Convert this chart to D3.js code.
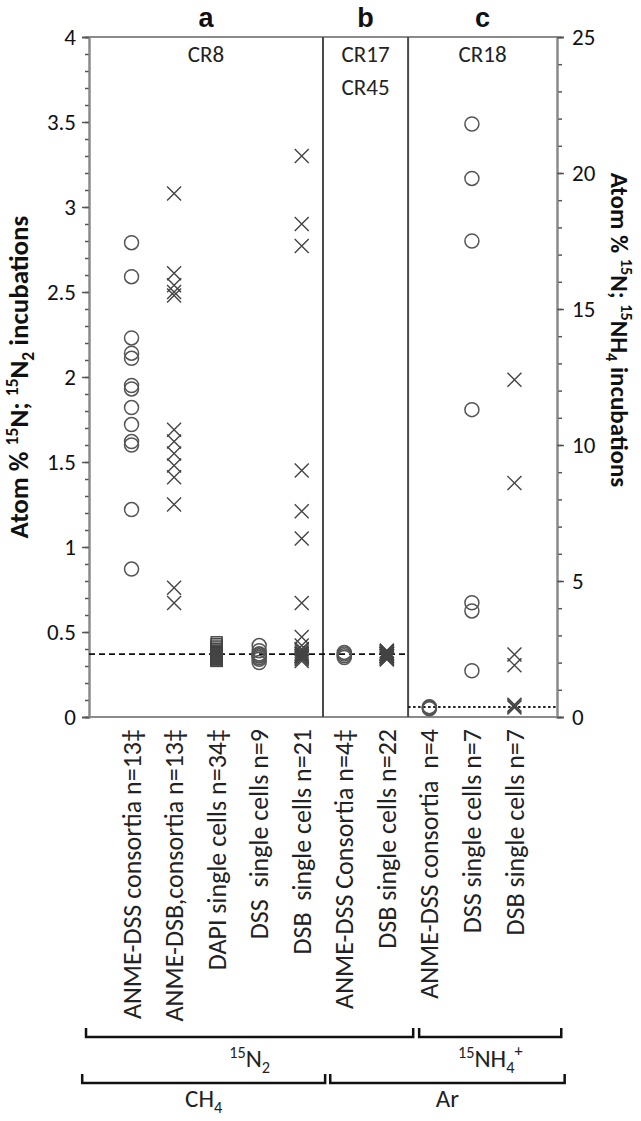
<!DOCTYPE html>
<html><head><meta charset="utf-8">
<script src="https://cdn.jsdelivr.net/npm/d3@7"></script>
<style>
html,body{margin:0;padding:0;background:#fff;}
svg{display:block;}
text{font-family:Carlito, Lato, "Open Sans", sans-serif;}
</style></head>
<body><svg id="chart" width="641" height="1121"></svg>
<script>
// ---- data ----
const categories = ["ANME-DSS consortia n=13‡", "ANME-DSB,consortia n=13‡", "DAPI single cells n=34‡",
  "DSS  single cells n=9", "DSB  single cells n=21", "ANME-DSS Consortia n=4‡", "DSB single cells n=22",
  "ANME-DSS consortia  n=4", "DSS single cells n=7", "DSB single cells n=7"];
const markerTypes = ["circle","cross","square","circle","cross","circle","cross","circle","circle","cross"];
const useRightAxis = [false,false,false,false,false,false,false,true,true,true];

const anmeDssConsortia = [2.79, 2.59, 2.23, 2.14, 2.11, 1.95, 1.93, 1.82, 1.72, 1.62, 1.60, 1.22, 0.87];
const anmeDsbConsortia = [3.08, 2.61, 2.54, 2.50, 2.48, 1.69, 1.62, 1.55, 1.48, 1.41, 1.25, 0.76, 0.67];
const dapiCells = [0.44,0.43,0.42,0.41,0.40,0.40,0.39,0.39,0.38,0.38,0.38,0.38,0.37,0.37,0.37,0.37,0.37,
  0.36,0.36,0.36,0.36,0.36,0.35,0.35,0.35,0.35,0.34,0.34,0.34,0.34,0.33,0.33,0.33,0.36];
const dssCells = [0.42, 0.39, 0.37, 0.37, 0.36, 0.36, 0.35, 0.34, 0.32];
const dsbCells = [3.30, 2.90, 2.77, 1.45, 1.21, 1.05, 0.67, 0.47, 0.42, 0.40, 0.39, 0.38, 0.37, 0.37,
  0.36, 0.36, 0.36, 0.35, 0.35, 0.34, 0.33];
const bAnmeDss = [0.38, 0.37, 0.36, 0.35];
const bDsbCells = [0.39,0.39,0.38,0.38,0.38,0.37,0.37,0.37,0.37,0.37,0.37,0.36,0.36,0.36,0.36,0.36,0.36,
  0.35,0.35,0.35,0.34,0.34];
const cAnmeDss = [0.30, 0.33, 0.36, 0.38];
const cDssCells = [21.8, 19.8, 17.5, 11.3, 4.2, 3.9, 1.7];
const cDsbCells = [12.4, 8.6, 2.3, 1.9, 0.45, 0.40, 0.35];
const seriesValues = [anmeDssConsortia, anmeDsbConsortia, dapiCells, dssCells, dsbCells,
  bAnmeDss, bDsbCells, cAnmeDss, cDssCells, cDsbCells];

const naturalAbundanceLeft = 0.37;   // dashed, panels a+b
const naturalAbundanceRight = 0.37;  // dotted, panel c (right axis)

const leftMajorTicks = [0,0.5,1,1.5,2,2.5,3,3.5,4];
const leftMinorTicks = d3.range(0,41).map(d=>d/10);
const rightMajorTicks = [0,5,10,15,20,25];
const rightMinorTicks = d3.range(0,26);

const panelLetters = ["a","b","c"];
const panelBounds = [[0,5.5],[5.5,7.5],[7.5,11]];
const panelSites = [["CR8"],["CR17","CR45"],["CR18"]];

const bracketRow1 = [{label:[["15","sup"],["N",""],["2","sub"]], from:-0.07, to:7.62},
                     {label:[["15","sup"],["NH",""],["4","sub"],["+","sup2"]], from:7.76, to:11.1}];
const bracketRow2 = [{label:[["CH",""],["4","sub"]], from:-0.16, to:5.55},
                     {label:[["Ar",""]], from:5.67, to:11.18}];

// ---- layout ----
const svg = d3.select("#chart");
const x = d3.scaleLinear().domain([0,11]).range([89,557]);
const yL = d3.scaleLinear().domain([0,4]).range([717,37]);
const yR = d3.scaleLinear().domain([0,25]).range([717,37]);
const axisColor = "#8a8a8a";
const markColor = "#555";

// frame: top and bottom
svg.append("line").attr("x1",x(0)).attr("x2",x(11)).attr("y1",yL(4)).attr("y2",yL(4))
  .attr("stroke",axisColor).attr("stroke-width",2);
svg.append("line").attr("x1",x(0)).attr("x2",x(11)).attr("y1",yL(0)).attr("y2",yL(0))
  .attr("stroke",axisColor).attr("stroke-width",2);
// panel dividers
[5.5,7.5].forEach(p=>{
  svg.append("line").attr("x1",x(p)).attr("x2",x(p)).attr("y1",yL(4)).attr("y2",yL(0))
    .attr("stroke","#4a4a4a").attr("stroke-width",2);
});

// axes
function styleAxis(g){
  g.select(".domain").attr("stroke",axisColor).attr("stroke-width",2);
  g.selectAll(".tick line").attr("stroke","#555").attr("stroke-width",1.5);
  g.selectAll(".tick text").attr("fill","#111").style("font-size","23px")
    .style("font-family","Carlito, Lato, sans-serif");
}
const gLm = svg.append("g").attr("transform",`translate(${x(0)},0)`)
  .call(d3.axisLeft(yL).tickValues(leftMinorTicks).tickSize(4).tickFormat(""));
styleAxis(gLm);
const gL = svg.append("g").attr("transform",`translate(${x(0)},0)`)
  .call(d3.axisLeft(yL).tickValues(leftMajorTicks).tickSize(7).tickPadding(6).tickFormat(d3.format("~g")));
styleAxis(gL);
const gRm = svg.append("g").attr("transform",`translate(${x(11)},0)`)
  .call(d3.axisRight(yR).tickValues(rightMinorTicks).tickSize(5).tickFormat(""));
styleAxis(gRm);
const gR = svg.append("g").attr("transform",`translate(${x(11)},0)`)
  .call(d3.axisRight(yR).tickValues(rightMajorTicks).tickSize(7).tickPadding(8).tickFormat(d3.format("~g")));
styleAxis(gR);

// natural abundance lines
svg.append("line").attr("x1",x(0)).attr("x2",x(7.5)).attr("y1",yL(naturalAbundanceLeft)).attr("y2",yL(naturalAbundanceLeft))
  .attr("stroke","#111").attr("stroke-width",1.6).attr("stroke-dasharray","6,4");
svg.append("line").attr("x1",x(7.5)).attr("x2",x(11)).attr("y1",yR(naturalAbundanceRight)).attr("y2",yR(naturalAbundanceRight))
  .attr("stroke","#222").attr("stroke-width",2).attr("stroke-dasharray","2.5,2.5");

// markers
const pts = [];
seriesValues.forEach((vals,i)=>vals.forEach(v=>pts.push({i, v, type:markerTypes[i], right:useRightAxis[i]})));
const gPts = svg.append("g");
pts.forEach(p=>{
  const cx = x(p.i+1), cy = p.right ? yR(p.v) : yL(p.v);
  if(p.type==="circle"){
    gPts.append("circle").attr("cx",cx).attr("cy",cy).attr("r",7)
      .attr("fill","none").attr("stroke",markColor).attr("stroke-width",1.5);
  } else if(p.type==="cross"){
    const s=7;
    gPts.append("path").attr("d",`M${cx-s},${cy-s}L${cx+s},${cy+s}M${cx-s},${cy+s}L${cx+s},${cy-s}`)
      .attr("fill","none").attr("stroke","#444").attr("stroke-width",1.4);
  } else {
    const s=5.5;
    gPts.append("rect").attr("x",cx-s).attr("y",cy-s).attr("width",2*s).attr("height",2*s)
      .attr("fill","none").attr("stroke","#444").attr("stroke-width",1.3);
  }
});

// panel letters and site labels
panelLetters.forEach((l,k)=>{
  const cx = x((panelBounds[k][0]+panelBounds[k][1])/2);
  svg.append("text").attr("x",cx).attr("y",27).attr("text-anchor","middle")
    .style("font-family","'Liberation Sans', Arial, sans-serif").style("font-weight","bold")
    .style("font-size","27px").attr("fill","#111").text(l);
  panelSites[k].forEach((s,j)=>{
    svg.append("text").attr("x",cx).attr("y",62+j*33).attr("text-anchor","middle")
      .style("font-size","23px").attr("fill","#222").text(s);
  });
});

// category labels
categories.forEach((c,i)=>{
  svg.append("text").attr("transform",`translate(${x(i+1)},729) rotate(-90)`)
    .attr("text-anchor","end").attr("dy","0.35em").style("font-size","26px")
    .style("white-space","pre").attr("xml:space","preserve").attr("fill","#222").text(c);
});

// rich text helper
function rich(sel, segs, size){
  let shift = 0;
  segs.forEach(([t,kind])=>{
    let target = 0, fs = size;
    if(kind==="sup"){target=-0.38*size; fs=size*0.65;}
    else if(kind==="sup2"){target=-0.45*size; fs=size*0.65;}
    else if(kind==="sub"){target=0.22*size; fs=size*0.65;}
    sel.append("tspan").attr("dy",target-shift).style("font-size",fs+"px").text(t);
    shift = target;
  });
}

// axis titles
const tL = svg.append("text").attr("transform",`translate(28,${(yL(0)+yL(4))/2}) rotate(-90)`)
  .attr("text-anchor","middle").style("font-weight","bold").attr("fill","#111");
rich(tL, [["Atom % ",""],["15","sup"],["N; ",""],["15","sup"],["N",""],["2","sub"],[" incubations",""]], 27);
const tR = svg.append("text").attr("transform",`translate(611,330) rotate(90)`)
  .attr("text-anchor","middle").style("font-weight","bold").attr("fill","#111");
rich(tR, [["Atom % ",""],["15","sup"],["N; ",""],["15","sup"],["NH",""],["4","sub"],[" incubations",""]], 25);

// brackets
function bracket(b, yLine, h, labelY){
  const x1=x(b.from), x2=x(b.to);
  svg.append("path").attr("d",`M${x1},${yLine-h}V${yLine}H${x2}V${yLine-h}`)
    .attr("fill","none").attr("stroke","#111").attr("stroke-width",2.5);
  const t = svg.append("text").attr("x",(x1+x2)/2).attr("y",labelY).attr("text-anchor","middle").attr("fill","#222");
  rich(t, b.label, 25);
}
bracketRow1.forEach(b=>bracket(b,1037,9,1067));
bracketRow2.forEach(b=>bracket(b,1083,9,1107));
</script></body></html>
